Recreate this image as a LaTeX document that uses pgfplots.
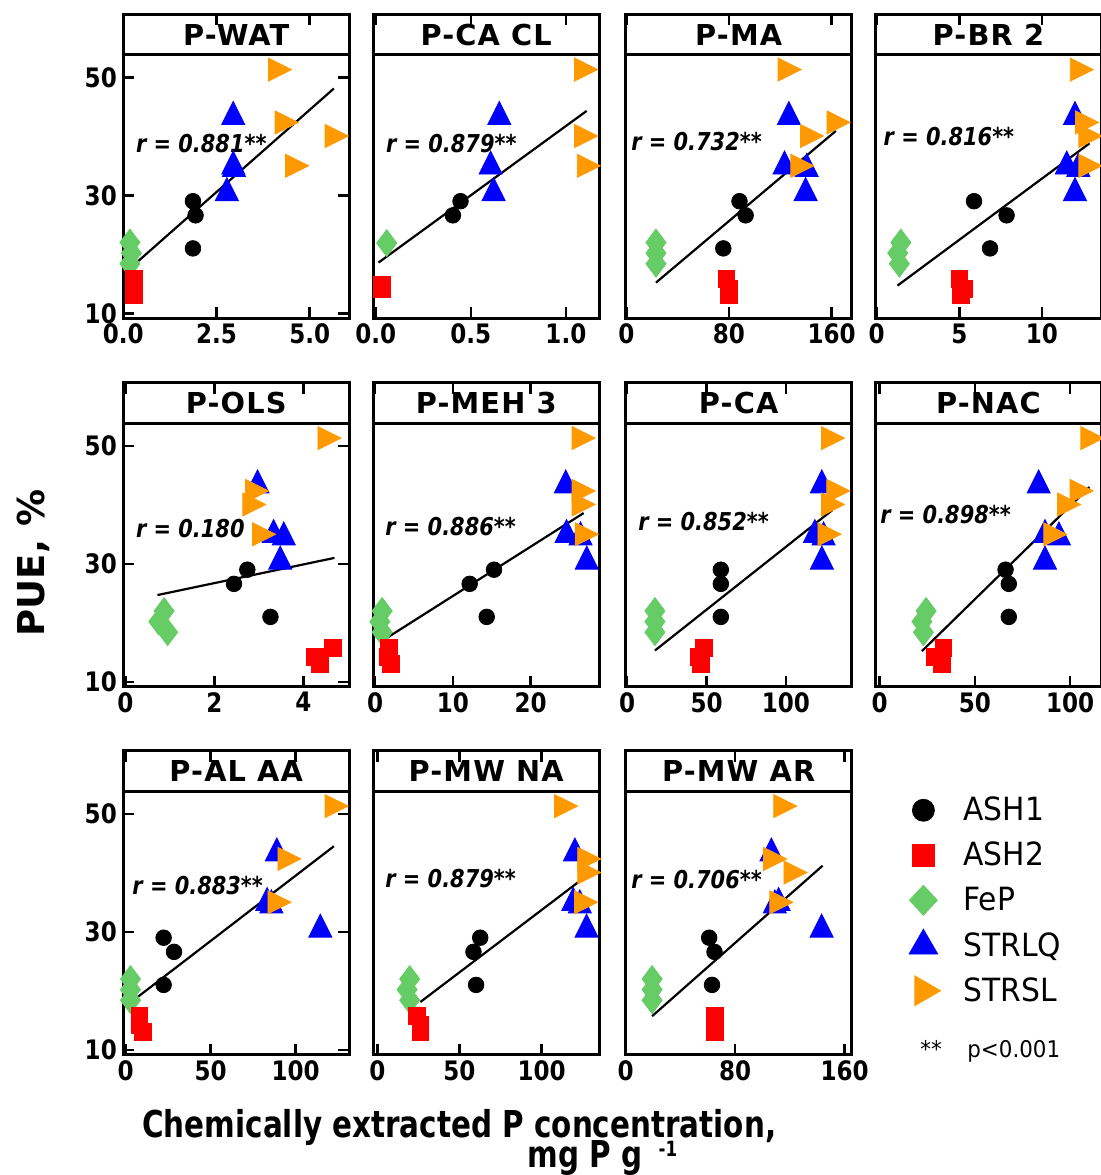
\documentclass[border=0pt]{standalone}
\usepackage{fontspec}
\setmainfont{DejaVu Sans}
\newfontfamily\tickfamily{DejaVu Sans}[FakeStretch=0.86]
\newfontfamily\titlefamily{DejaVu Sans}[LetterSpace=4]
\newfontfamily\rfamily{DejaVu Sans}[FakeStretch=0.85]
\newfontfamily\legfamily{DejaVu Sans}[FakeStretch=0.93]
\newfontfamily\xlabfamily{DejaVu Sans}[FakeStretch=0.795]
\usepackage{pgfplots}
\pgfplotsset{compat=1.18}
\definecolor{fepgreen}{RGB}{102,204,102}
\definecolor{strorange}{RGB}{255,153,0}
\definecolor{ashred}{RGB}{255,0,0}
\definecolor{strblue}{RGB}{0,0,255}
\newcommand{\tickfont}{\tickfamily\bfseries\fontsize{13.4pt}{16pt}\selectfont}
\newcommand{\titlefont}{\titlefamily\bfseries\fontsize{14.4pt}{16pt}\selectfont}
\newcommand{\rfont}{\rfamily\bfseries\itshape\fontsize{12.3pt}{14pt}\selectfont}
\newcommand{\legfont}{\legfamily\fontsize{16pt}{18pt}\selectfont}
\newcommand{\xlabfont}{\xlabfamily\bfseries\fontsize{18.5pt}{20pt}\selectfont}
\newcommand{\ylabfont}{\bfseries\fontsize{18.5pt}{20pt}\selectfont}
\newcommand{\ptitle}[1]{\draw[line width=1.5pt] (rel axis cs:0,0.868) -- (rel axis cs:1,0.868);
  \node[font=\titlefont] at (rel axis cs:0.5,0.934) {#1};}
\newcommand{\rlab}[3]{\node[font=\rfont, anchor=west, inner sep=0pt] at (rel axis cs:#1,#2) {#3};}
\pgfplotsset{
  panel/.style={
    scale only axis, width=113pt, height=152pt, anchor=south west,
    ymin=9.12, ymax=60.64, clip=false,
    axis line style={line width=1.5pt, line join=miter},
    tick align=inside, major tick length=5.5pt,
    every tick/.style={line width=1.25pt, black},
    ytick=\empty,
    xticklabel style={font=\tickfont, inner sep=2.5pt},
    yticklabel style={font=\tickfont, inner sep=3pt},
  },
  ycol1/.style={ytick={10,30,50}, yticklabels={10,30,50}},
  reg/.style={black, line width=1.1pt, no marks, forget plot},
  ash1/.style={only marks, mark=*, mark size=3.9pt, black, forget plot},
  ash2/.style={only marks, mark=square*, mark size=4.2pt, ashred, forget plot},
  fep/.style={only marks, mark=diamond*, mark size=6.7pt, fepgreen, forget plot},
  strlq/.style={only marks, mark=triangle*, mark size=6.65pt, strblue, mark options={yscale=1.155}, forget plot},
  strsl/.style={only marks, mark=triangle*, mark size=6.65pt, strorange, mark options={rotate=-90,yscale=1.155}, forget plot},
  legimg/.style={only marks, legend image code/.code={\path[draw=none,fill=none] (0pt,-8pt) rectangle (20pt,8pt); \draw[##1] plot coordinates {(10pt,0pt)};}},
}
\begin{document}
\begin{tikzpicture}
% ---------------- Row 1 ----------------
\begin{axis}[panel, ycol1, at={(61.6pt,428.25pt)}, xmin=0, xmax=6.06, xtick={0,2.5,5}, xticklabels={0.0,2.5,5.0}]
\addplot[reg] coordinates {(0.34,18.5) (5.65,48.1)};
\addplot[fep] coordinates {(0.18,22.0) (0.22,20.2) (0.18,18.4)};
\addplot[ash2] coordinates {(0.28,15.8) (0.28,14.2) (0.28,13.1)};
\addplot[ash1] coordinates {(1.87,29.0) (1.94,26.6) (1.87,21.0)};
\addplot[strlq] coordinates {(2.95,43.3) (2.95,34.9) (2.97,34.5) (2.78,30.4)};
\addplot[strsl] coordinates {(4.10,51.3) (4.28,42.35) (5.62,40.05) (4.56,35.0)};
\ptitle{P-WAT}
\rlab{0.055}{0.576}{r = 0.881**}
\end{axis}
\begin{axis}[panel, at={(186.6pt,428.25pt)}, xmin=-0.013, xmax=1.175, xtick={0,0.5,1}, xticklabels={0.0,0.5,1.0}]
\addplot[reg] coordinates {(0.015,18.6) (1.109,44.3)};
\addplot[fep] coordinates {(0.058,21.9)};
\addplot[ash2] coordinates {(0.033,14.9) (0.033,14.2)};
\addplot[ash1] coordinates {(0.446,29.0) (0.406,26.6)};
\addplot[strlq] coordinates {(0.65,43.3) (0.604,34.9) (0.62,30.4)};
\addplot[strsl] coordinates {(1.086,51.3) (1.086,40.05) (1.10,35.0)};
\ptitle{P-CA CL}
\rlab{0.055}{0.576}{r = 0.879**}
\end{axis}
\begin{axis}[panel, at={(312.85pt,428.25pt)}, xmin=-0.5, xmax=175.7, xtick={0,80,160}, xticklabels={0,80,160}]
\addplot[reg] coordinates {(23.1,15.2) (163.3,40.9)};
\addplot[fep] coordinates {(23.1,22.0) (23.1,20.2) (23.1,18.4)};
\addplot[ash2] coordinates {(78.0,15.8) (79.7,14.2) (79.7,13.1)};
\addplot[ash1] coordinates {(88.2,29.0) (93.0,26.6) (75.6,21.0)};
\addplot[strlq] coordinates {(126.7,43.3) (123.3,34.9) (140.6,34.5) (139.8,30.4)};
\addplot[strsl] coordinates {(124.3,51.3) (162.4,42.35) (141.7,40.05) (134.2,35.0)};
\ptitle{P-MA}
\rlab{0.023}{0.582}{r = 0.732**}
\end{axis}
\begin{axis}[panel, at={(437.7pt,428.25pt)}, xmin=-0.08, xmax=13.6, xtick={0,5,10}, xticklabels={0,5,10}]
\addplot[reg] coordinates {(1.26,14.7) (12.88,38.8)};
\addplot[fep] coordinates {(1.46,22.0) (1.27,20.2) (1.37,18.4)};
\addplot[ash2] coordinates {(5.0,15.8) (5.3,14.2) (5.1,13.1)};
\addplot[ash1] coordinates {(5.89,29.0) (7.86,26.6) (6.86,21.0)};
\addplot[strlq] coordinates {(12.0,43.3) (11.5,34.9) (12.2,34.5) (12.0,30.4)};
\addplot[strsl] coordinates {(12.18,51.3) (12.5,42.35) (12.7,40.05) (12.7,35.0)};
\ptitle{P-BR 2}
\rlab{0.035}{0.598}{r = 0.816**}
\end{axis}
% ---------------- Row 2 ----------------
\begin{axis}[panel, ycol1, at={(61.6pt,244pt)}, xmin=-0.05, xmax=5.03, xtick={0,2,4}, xticklabels={0,2,4}]
\addplot[reg] coordinates {(0.72,24.7) (4.70,31.0)};
\addplot[fep] coordinates {(0.87,22.0) (0.75,20.2) (0.95,18.4)};
\addplot[ash2] coordinates {(4.67,15.8) (4.25,14.2) (4.37,13.1)};
\addplot[ash1] coordinates {(2.74,29.0) (2.44,26.6) (3.26,21.0)};
\addplot[strlq] coordinates {(2.97,43.3) (3.33,34.9) (3.56,34.5) (3.48,30.4)};
\addplot[strsl] coordinates {(4.50,51.3) (2.87,42.35) (2.81,40.05) (3.03,35.0)};
\ptitle{P-OLS}
\rlab{0.055}{0.522}{r = 0.180}
\end{axis}
\begin{axis}[panel, at={(186.6pt,244pt)}, xmin=-0.25, xmax=28.8, xtick={0,10,20}, xticklabels={0,10,20}]
\addplot[reg] coordinates {(1.34,17.3) (26.8,38.6)};
\addplot[fep] coordinates {(0.9,22.0) (0.6,20.2) (0.9,18.4)};
\addplot[ash2] coordinates {(1.8,15.8) (1.6,14.2) (2.0,13.1)};
\addplot[ash1] coordinates {(15.28,29.0) (12.15,26.6) (14.34,21.0)};
\addplot[strlq] coordinates {(24.5,43.3) (24.6,34.9) (26.4,34.5) (27.2,30.4)};
\addplot[strsl] coordinates {(26.3,51.3) (26.3,42.35) (26.3,40.05) (26.7,35.0)};
\ptitle{P-MEH 3}
\rlab{0.052}{0.527}{r = 0.886**}
\end{axis}
\begin{axis}[panel, at={(312.85pt,244pt)}, xmin=-0.9, xmax=141.4, xtick={0,50,100}, xticklabels={0,50,100}]
\addplot[reg] coordinates {(17.5,15.3) (129.2,39.1)};
\addplot[fep] coordinates {(17.5,22.0) (17.5,20.2) (17.5,18.4)};
\addplot[ash2] coordinates {(48.5,15.8) (45.1,14.2) (46.6,13.1)};
\addplot[ash1] coordinates {(59.0,29.0) (59.0,26.6) (59.0,21.0)};
\addplot[strlq] coordinates {(122.6,43.3) (118.2,34.9) (123.7,34.5) (122.6,30.4)};
\addplot[strsl] coordinates {(127.2,51.3) (130.5,42.35) (127.2,40.05) (125.0,35.0)};
\ptitle{P-CA}
\rlab{0.054}{0.544}{r = 0.852**}
\end{axis}
\begin{axis}[panel, at={(437.7pt,244pt)}, xmin=-2.2, xmax=116.4, xtick={0,50,100}, xticklabels={0,50,100}]
\addplot[reg] coordinates {(22.2,15.2) (110.1,43.0)};
\addplot[fep] coordinates {(24.4,22.0) (22.2,20.2) (23.0,18.4)};
\addplot[ash2] coordinates {(33.5,15.8) (29.1,14.2) (32.6,13.1)};
\addplot[ash1] coordinates {(66.1,29.0) (67.8,26.6) (67.8,21.0)};
\addplot[strlq] coordinates {(83.5,43.3) (86.8,34.9) (94.1,34.5) (86.8,30.4)};
\addplot[strsl] coordinates {(109.6,51.3) (104.0,42.35) (97.4,40.05) (90.2,35.0)};
\ptitle{P-NAC}
\rlab{0.020}{0.566}{r = 0.898**}
\end{axis}
% ---------------- Row 3 ----------------
\begin{axis}[panel, ycol1, at={(61.6pt,60pt)}, xmin=-1.5, xmax=131.5, xtick={0,50,100}, xticklabels={0,50,100}]
\addplot[reg] coordinates {(5.9,18.7) (122.5,44.5)};
\addplot[fep] coordinates {(2.8,22.0) (2.8,20.2) (2.8,18.4)};
\addplot[ash2] coordinates {(8.0,15.8) (8.0,14.2) (10.1,13.1)};
\addplot[ash1] coordinates {(22.3,29.0) (28.4,26.6) (22.3,21.0)};
\addplot[strlq] coordinates {(88.9,43.3) (83.2,34.9) (85.7,34.5) (114.5,30.4)};
\addplot[strsl] coordinates {(121.8,51.3) (94.1,42.35) (88.2,35.0)};
\ptitle{P-AL AA}
\rlab{0.039}{0.559}{r = 0.883**}
\end{axis}
\begin{axis}[panel, at={(186.6pt,60pt)}, xmin=-2.5, xmax=135, xtick={0,50,100}, xticklabels={0,50,100}]
\addplot[reg] coordinates {(26.2,18.1) (122.2,38.4)};
\addplot[fep] coordinates {(19.7,22.0) (18.1,20.2) (19.7,18.4)};
\addplot[ash2] coordinates {(24.1,15.8) (26.2,14.2) (26.2,13.1)};
\addplot[ash1] coordinates {(62.6,29.0) (58.5,26.6) (60.1,21.0)};
\addplot[strlq] coordinates {(120.2,43.3) (119.2,34.9) (123.2,34.5) (127.3,30.4)};
\addplot[strsl] coordinates {(112.5,51.3) (126.6,42.35) (126.6,40.05) (124.6,35.0)};
\ptitle{P-MW NA}
\rlab{0.052}{0.581}{r = 0.879**}
\end{axis}
\begin{axis}[panel, at={(312.85pt,60pt)}, xmin=0, xmax=165.2, xtick={0,80,160}, xticklabels={0,80,160},
  legend style={at={(rel axis cs:1.227,0.859)}, anchor=north west, draw=none, fill=none,
    inner sep=0pt, font=\legfont, row sep=6.5pt, nodes={inner sep=0pt},
    /tikz/every odd column/.style={column sep=10pt}},
  legend cell align=left]
\addplot[reg] coordinates {(19.3,15.7) (143.9,41.2)};
\addplot[fep] coordinates {(19.3,22.0) (19.3,20.2) (19.3,18.4)};
\addplot[ash2] coordinates {(65.4,15.8) (65.4,14.2) (65.4,13.1)};
\addplot[ash1] coordinates {(61.0,29.0) (64.9,26.6) (63.1,21.0)};
\addplot[strlq] coordinates {(106.5,43.3) (111.8,34.9) (109.0,34.5) (143.2,30.4)};
\addplot[strsl] coordinates {(113.8,51.3) (106.4,42.35) (121.3,40.05) (111.0,35.0)};
\ptitle{P-MW AR}
\rlab{0.023}{0.577}{r = 0.706**}
\addlegendimage{legimg, black, mark=*, mark size=5.5pt}
\addlegendentry{ASH1}
\addlegendimage{legimg, ashred, mark=square*, mark size=5.5pt}
\addlegendentry{ASH2}
\addlegendimage{legimg, fepgreen, mark=diamond*, mark size=7.5pt, mark options={xscale=1.24}}
\addlegendentry{FeP}
\addlegendimage{legimg, strblue, mark=triangle*, mark size=8.25pt}
\addlegendentry{STRLQ}
\addlegendimage{legimg, strorange, mark=triangle*, mark size=8.6pt, mark options={rotate=-90}}
\addlegendentry{STRSL}
\end{axis}
% ---------------- Labels ----------------
\node[font=\legfamily\fontsize{11.5pt}{13pt}\selectfont, anchor=base west, inner sep=0pt] at (460pt,59pt) {**};
\node[font=\legfamily\fontsize{11.5pt}{13pt}\selectfont, anchor=base west, inner sep=0pt] at (483.5pt,59pt) {p<0.001};
\node[font=\ylabfont, rotate=90, anchor=base, inner sep=0pt] at (22.3pt,306pt) {PUE, \%};
\node[font=\xlabfont, anchor=base west, inner sep=0pt, align=left] at (71pt,4pt)
  {Chemically extracted P concentration,\\[-5pt]\hspace*{192.75pt}mg P g\hspace{8pt}\raisebox{5.5pt}{\fontsize{10.5pt}{10.5pt}\selectfont -1}};
\pgfresetboundingbox
\useasboundingbox (0pt,0pt) rectangle (550pt,587.5pt);
\end{tikzpicture}
\end{document}
